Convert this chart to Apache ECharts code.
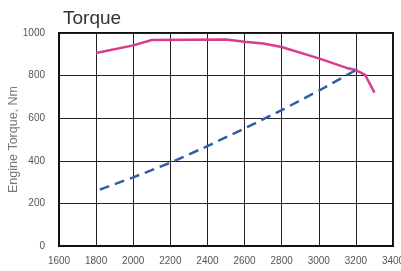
<!DOCTYPE html>
<html>
<head>
<meta charset="utf-8">
<script src="https://cdn.jsdelivr.net/npm/echarts@6/dist/echarts.min.js"></script>
<style>
  html, body { margin: 0; padding: 0; background: #fff; }
  #chart { width: 401px; height: 271px; }
</style>
</head>
<body>
<div id="chart"></div>
<script>
// 转速 (rpm) 与扭矩 (Nm)
var powerRpm = [1800, 2000, 2100, 2500, 2600, 2700, 2800, 3000, 3150, 3200, 3250, 3300];
var powerTorque = [906, 942, 967, 970, 959, 951, 934, 881, 836, 826, 803, 720];
var dashRpm = [1820, 2000, 2200, 2400, 2600, 2800, 3000, 3200];
var dashTorque = [265, 322, 391, 469, 552, 638, 729, 826];

function pairs(xs, ys) {
  return xs.map(function (x, i) { return [x, ys[i]]; });
}

var chart = echarts.init(document.getElementById('chart'), null, { renderer: 'canvas' });
var lblFont = 'Helvetica, "Liberation Sans", Arial, sans-serif';

chart.setOption({
  animation: false,
  title: {
    text: 'Torque', left: 58, top: 4,
    textStyle: { color: '#333', fontSize: 19, fontWeight: 'normal', fontFamily: lblFont }
  },
  grid: { left: 59, right: 8, top: 33, bottom: 25, containLabel: false, outerBoundsMode: 'none' },
  xAxis: {
    type: 'value', min: 1600, max: 3400, interval: 200,
    axisLine: { show: true, onZero: false, lineStyle: { color: '#111', width: 2 } },
    axisTick: { show: false },
    axisLabel: { color: '#555', fontSize: 10, fontFamily: lblFont, margin: 10, showMaxLabel: true,
      formatter: function (v) { return String(v); } },
    splitLine: { show: true, lineStyle: { color: '#222', width: 1 } }
  },
  yAxis: {
    type: 'value', min: 0, max: 1000, interval: 200,
    name: 'Engine Torque, Nm', nameLocation: 'middle', nameGap: 39, nameMoveOverlap: false,
    nameTextStyle: { color: '#777', fontSize: 12.5, fontFamily: lblFont },
    axisLine: { show: true, lineStyle: { color: '#111', width: 2 } },
    axisTick: { show: false },
    axisLabel: { color: '#555', fontSize: 10, fontFamily: lblFont, margin: 14,
      formatter: function (v) { return String(v); } },
    splitLine: { show: true, lineStyle: { color: '#222', width: 1 } }
  },
  series: [
    {
      name: 'torque', type: 'line', data: pairs(powerRpm, powerTorque),
      symbol: 'none',
      lineStyle: { color: '#d83d8c', width: 2.5 },
      z: 3
    },
    {
      name: 'dashed', type: 'line', data: pairs(dashRpm, dashTorque),
      symbol: 'none',
      lineStyle: { color: '#2f5ea9', width: 2.5, type: [10, 6] },
      z: 3
    }
  ],
  graphic: [
    // 右侧与顶部边框
    { type: 'rect', shape: { x: 59, y: 33, width: 334, height: 213 }, style: { fill: 'none', stroke: '#111', lineWidth: 2 }, silent: true, z: 0 }
  ]
});
</script>
</body>
</html>
